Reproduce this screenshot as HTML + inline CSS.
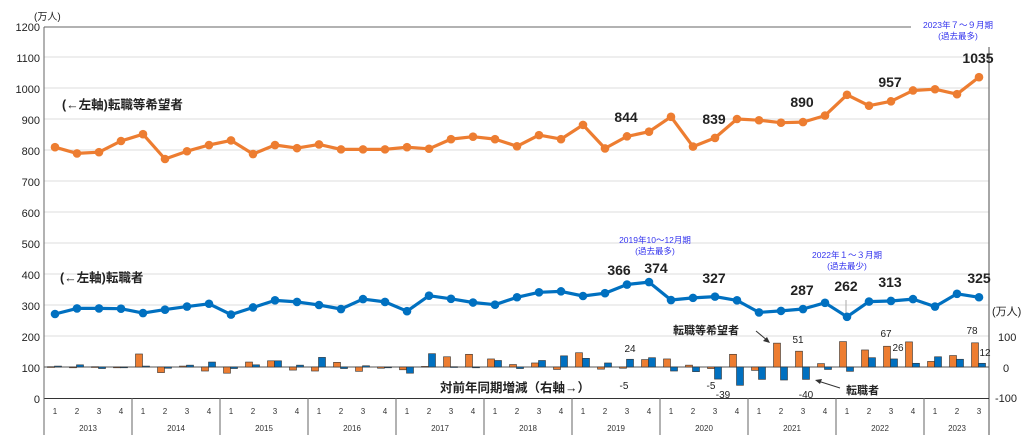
<!DOCTYPE html>
<html><head><meta charset="utf-8"><style>
body{margin:0;background:#fff;}
svg{display:block;font-family:"Liberation Sans","Noto Sans CJK JP",sans-serif;}
.t{font-size:11px;fill:#222}
.q{font-size:8px;fill:#333}
.b{font-size:14px;font-weight:bold;fill:#222}
.s{font-size:11px;font-weight:bold;fill:#222}
.a{font-size:8.5px;fill:#3333ee}
</style></head><body>
<svg id="c" width="1024" height="443" viewBox="0 0 1024 443">
<g id="grid" stroke="#dcdcdc" stroke-width="1"></g>
<line x1="44" y1="27" x2="911" y2="27" stroke="#666" stroke-width="1"/>
<line x1="44" y1="27" x2="44" y2="435" stroke="#666" stroke-width="1"/>
<line x1="989" y1="47" x2="989" y2="435" stroke="#888" stroke-width="1.5"/>
<line x1="44" y1="398.5" x2="989" y2="398.5" stroke="#333" stroke-width="1"/>
<line x1="44" y1="367" x2="989" y2="367" stroke="#555" stroke-width="1"/>
<g id="sep" stroke="#666" stroke-width="1"></g>
<g id="bars" stroke="#333" stroke-width="0.6"></g>
<line x1="846" y1="300" x2="846" y2="318" stroke="#aaa" stroke-width="1"/>
<g id="lines"></g>
<!-- left axis labels -->
<g class="t" text-anchor="end">
<text x="40" y="31">1200</text><text x="40" y="62">1100</text><text x="40" y="93">1000</text>
<text x="40" y="124">900</text><text x="40" y="155">800</text><text x="40" y="186">700</text>
<text x="40" y="217">600</text><text x="40" y="248">500</text><text x="40" y="279">400</text>
<text x="40" y="310">300</text><text x="40" y="341">200</text><text x="40" y="372">100</text>
<text x="40" y="403">0</text></g>
<text x="34" y="20" class="t" style="font-size:10px">(万人)</text>
<g class="t"><text x="992" y="315">(万人)</text><text x="998" y="341">100</text><text x="1003" y="372">0</text><text x="995" y="402">-100</text></g>
<!-- annotations -->
<text x="62" y="109" class="s" style="font-size:12.5px">(←左軸)転職等希望者</text>
<text x="60" y="282" class="s" style="font-size:12.5px">(←左軸)転職者</text>
<text x="440" y="392" class="s" style="font-size:12.5px">対前年同期増減（右軸→）</text>
<text x="673" y="334" class="s">転職等希望者</text>
<line x1="756" y1="331" x2="768" y2="341" stroke="#333"/><polygon points="770,343 763,341 767,337" fill="#333"/>
<text x="846" y="394" class="s">転職者</text>
<line x1="840" y1="388" x2="818" y2="381" stroke="#333"/><polygon points="815,380 822,379 820,384" fill="#333"/>
<g class="a" text-anchor="middle">
<text x="655" y="243">2019年10～12月期</text><text x="655" y="254">(過去最多)</text>
<text x="847" y="258">2022年１～３月期</text><text x="847" y="269">(過去最少)</text>
<text x="958" y="28">2023年７～９月期</text><text x="958" y="39">(過去最多)</text>
</g>
<g class="b" text-anchor="middle">
<text x="626" y="122">844</text><text x="714" y="124">839</text><text x="802" y="107">890</text>
<text x="890" y="87">957</text><text x="978" y="63">1035</text>
<text x="619" y="275">366</text><text x="656" y="273">374</text><text x="714" y="283">327</text>
<text x="802" y="295">287</text><text x="846" y="291">262</text><text x="890" y="287">313</text><text x="979" y="283">325</text>
</g>
<g class="t" text-anchor="middle" style="font-size:10px">
<text x="630" y="352">24</text><text x="624" y="389">-5</text><text x="711" y="389">-5</text><text x="723" y="398">-39</text>
<text x="798" y="343">51</text><text x="806" y="398">-40</text><text x="886" y="337">67</text><text x="898" y="351">26</text>
<text x="972" y="334">78</text><text x="985" y="356">12</text>
</g>
<!-- quarter labels -->
<g class="q" text-anchor="middle">
<text x="55" y="414">1</text><text x="77" y="414">2</text><text x="99" y="414">3</text><text x="121" y="414">4</text>
<text x="143" y="414">1</text><text x="165" y="414">2</text><text x="187" y="414">3</text><text x="209" y="414">4</text>
<text x="231" y="414">1</text><text x="253" y="414">2</text><text x="275" y="414">3</text><text x="297" y="414">4</text>
<text x="319" y="414">1</text><text x="341" y="414">2</text><text x="363" y="414">3</text><text x="385" y="414">4</text>
<text x="407" y="414">1</text><text x="429" y="414">2</text><text x="451" y="414">3</text><text x="473" y="414">4</text>
<text x="495" y="414">1</text><text x="517" y="414">2</text><text x="539" y="414">3</text><text x="561" y="414">4</text>
<text x="583" y="414">1</text><text x="605" y="414">2</text><text x="627" y="414">3</text><text x="649" y="414">4</text>
<text x="671" y="414">1</text><text x="693" y="414">2</text><text x="715" y="414">3</text><text x="737" y="414">4</text>
<text x="759" y="414">1</text><text x="781" y="414">2</text><text x="803" y="414">3</text><text x="825" y="414">4</text>
<text x="847" y="414">1</text><text x="869" y="414">2</text><text x="891" y="414">3</text><text x="913" y="414">4</text>
<text x="935" y="414">1</text><text x="957" y="414">2</text><text x="979" y="414">3</text>
<text x="88" y="431">2013</text><text x="176" y="431">2014</text><text x="264" y="431">2015</text><text x="352" y="431">2016</text>
<text x="440" y="431">2017</text><text x="528" y="431">2018</text><text x="616" y="431">2019</text><text x="704" y="431">2020</text>
<text x="792" y="431">2021</text><text x="880" y="431">2022</text><text x="957" y="431">2023</text>
</g>
</svg>
<script>
var NS="http://www.w3.org/2000/svg";
function el(p,t,a){var e=document.createElementNS(NS,t);for(var k in a)e.setAttribute(k,a[k]);document.getElementById(p).appendChild(e);return e;}
for(var v=100;v<=1100;v+=100){var y=398-v*0.31;el("grid","line",{x1:44,x2:989,y1:y,y2:y});}
for(var i=0;i<=10;i++){var x=44+88*i;el("sep","line",{x1:x,x2:x,y1:398,y2:435});}
var O=[809,789,793,829,851,771,796,816,831,787,816,806,818,802,802,802,809,804,835,843,835,812,848,835,881,805,844,859,907,811,839,900,896,888,890,911,978,943,957,992,996,980,1035];
var B=[271,289,289,288,274,285,295,304,269,292,315,310,300,287,319,310,280,330,320,308,301,325,341,344,329,338,366,374,316,323,327,315,276,281,287,307,262,311,313,319,295,336,325];
var O0=[1,0,1,-2],B0=[3,7,-5,-2];
function X(i){return 55+22*i;}
for(var i=0;i<43;i++){
 var d1=i<4?O0[i]:O[i]-O[i-4], d2=i<4?B0[i]:B[i]-B[i-4];
 var x=X(i);
 var h1=d1*0.31,h2=d2*0.31;
 el("bars","rect",{x:x-7.5,y:Math.min(367,367-h1),width:7,height:Math.max(0.8,Math.abs(h1)),fill:"#ed7d31"});
 el("bars","rect",{x:x-0.5,y:Math.min(367,367-h2),width:7,height:Math.max(0.8,Math.abs(h2)),fill:"#0070c0"});
}
function line(D,c){var p=D.map(function(v,i){return X(i)+","+(398-v*0.31).toFixed(1);}).join(" ");
 el("lines","polyline",{points:p,fill:"none",stroke:c,"stroke-width":3.2,"stroke-linejoin":"round"});
 D.forEach(function(v,i){el("lines","circle",{cx:X(i),cy:398-v*0.31,r:4.3,fill:c});});}
line(O,"#ed7d31");line(B,"#0070c0");
</script>
</body></html>
